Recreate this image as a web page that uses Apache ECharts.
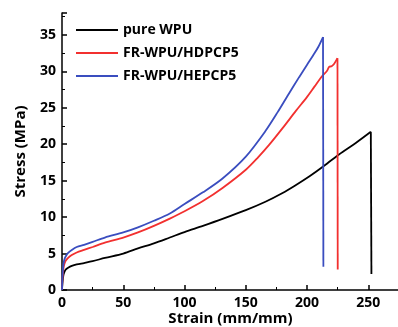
<!DOCTYPE html>
<html lang="en">
<head>
    <meta charset="UTF-8">
    <script src="https://cdn.jsdelivr.net/npm/echarts@6.0.0/dist/echarts.min.js"></script>
    <title>Stress-Strain</title>
    <style>
        body { margin: 0; background: #fff; }
    </style>
</head>
<body>
<div id="main" style="width: 398px;height:327px;"></div>
<script type="text/javascript">
    // legend names
    var names = ['pure WPU', 'FR-WPU/HDPCP5', 'FR-WPU/HEPCP5'];
    var colors = ['#000000', '#f2302f', '#3a4dbf'];

    // pure WPU (last point = after break)
    var strainWpu = [0, 0.3, 0.7, 1.2, 2, 3, 5, 8, 12, 18, 25, 35, 50, 62, 75, 88, 100, 115, 131, 150, 166, 180, 190, 202, 212, 226, 240, 252, 252.5];
    var stressWpu = [0, 0.8, 1.5, 2.1, 2.5, 2.8, 3.05, 3.3, 3.5, 3.7, 3.95, 4.4, 5.0, 5.7, 6.4, 7.2, 7.95, 8.8, 9.75, 10.95, 12.1, 13.3, 14.3, 15.6, 16.8, 18.6, 20.2, 21.7, 2.2];

    // FR-WPU/HDPCP5
    var strainHd = [0, 0.3, 0.7, 1.2, 2, 3, 5, 8, 12, 18, 25, 35, 50, 62, 75, 88, 100, 115, 131, 150, 160, 169, 180, 191, 200, 206, 212.5, 216, 218, 220, 222, 224.8, 225];
    var stressHd = [0, 1.2, 2.2, 3.0, 3.6, 4.0, 4.4, 4.8, 5.15, 5.5, 5.9, 6.5, 7.2, 7.9, 8.8, 9.8, 10.8, 12.2, 14.0, 16.5, 18.2, 19.9, 22.2, 24.6, 26.5, 27.9, 29.4, 30.0, 30.6, 30.7, 31.0, 31.8, 2.8];

    // FR-WPU/HEPCP5
    var strainHe = [0, 0.3, 0.7, 1.2, 2, 3, 5, 8, 12, 18, 25, 35, 50, 62, 75, 88, 100, 115, 131, 150, 166, 176, 185, 193.5, 200, 205, 209, 213, 213.3];
    var stressHe = [0, 1.6, 2.8, 3.6, 4.2, 4.6, 5.1, 5.5, 5.9, 6.2, 6.6, 7.2, 7.9, 8.6, 9.5, 10.5, 11.8, 13.4, 15.3, 18.3, 21.8, 24.4, 26.9, 29.2, 30.9, 32.2, 33.3, 34.7, 3.2];

    function pairs(xs, ys) {
        var out = [];
        for (var i = 0; i < xs.length; i++) {
            out.push([xs[i], ys[i]]);
        }
        return out;
    }

    var font = 'Open Sans';
    var chart = echarts.init(document.getElementById('main'));

    var axisCommon = {
        axisLine: { show: true, lineStyle: { color: '#000', width: 1.5 } },
        axisTick: { show: true, inside: true, length: 5, lineStyle: { color: '#000', width: 1.5 } },
        minorTick: { show: true, splitNumber: 2, length: 3, lineStyle: { color: '#000', width: 1 } },
        splitLine: { show: false },
        axisLabel: { color: '#000', fontFamily: font, fontWeight: 'bold', fontSize: 14, showMaxLabel: false, margin: 6 },
        nameMoveOverlap: false,
        nameTextStyle: { color: '#000', fontFamily: font, fontWeight: 'bold', fontSize: 15 }
    };

    // smooth curve up to the break, then a straight vertical drop
    function makeSeries(i, xs, ys) {
        var all = pairs(xs, ys);
        var n = all.length;
        return [{
            name: names[i], type: 'line', data: all.slice(0, n - 1),
            showSymbol: false, smooth: 0.3,
            lineStyle: { color: colors[i], width: 1.8 }, itemStyle: { color: colors[i] }
        }, {
            name: names[i], type: 'line', data: all.slice(n - 2),
            showSymbol: false,
            lineStyle: { color: colors[i], width: 1.8 }, itemStyle: { color: colors[i] }
        }];
    }

    var option = {
        animation: false,
        grid: { left: 62, top: 13, width: 337, bottom: 37, outerBoundsMode: 'none', containLabel: false },
        legend: {
            orient: 'vertical',
            left: 76,
            top: 23,
            padding: 0,
            itemWidth: 42,
            itemHeight: 2,
            itemGap: 9,
            icon: 'rect',
            textStyle: { color: '#000', fontFamily: font, fontWeight: 'bold', fontSize: 14, lineHeight: 14 },
            data: names
        },
        xAxis: Object.assign({}, axisCommon, {
            type: 'value',
            min: 0,
            max: 275,
            interval: 50,
            name: 'Strain (mm/mm)',
            nameLocation: 'middle',
            nameGap: 21
        }),
        yAxis: Object.assign({}, axisCommon, {
            type: 'value',
            min: 0,
            max: 38,
            interval: 5,
            name: 'Stress (MPa)',
            nameLocation: 'middle',
            nameGap: 34
        }),
        series: [].concat(
            makeSeries(0, strainWpu, stressWpu),
            makeSeries(1, strainHd, stressHd),
            makeSeries(2, strainHe, stressHe)
        )
    };
    chart.setOption(option);
</script>
</body>
</html>
